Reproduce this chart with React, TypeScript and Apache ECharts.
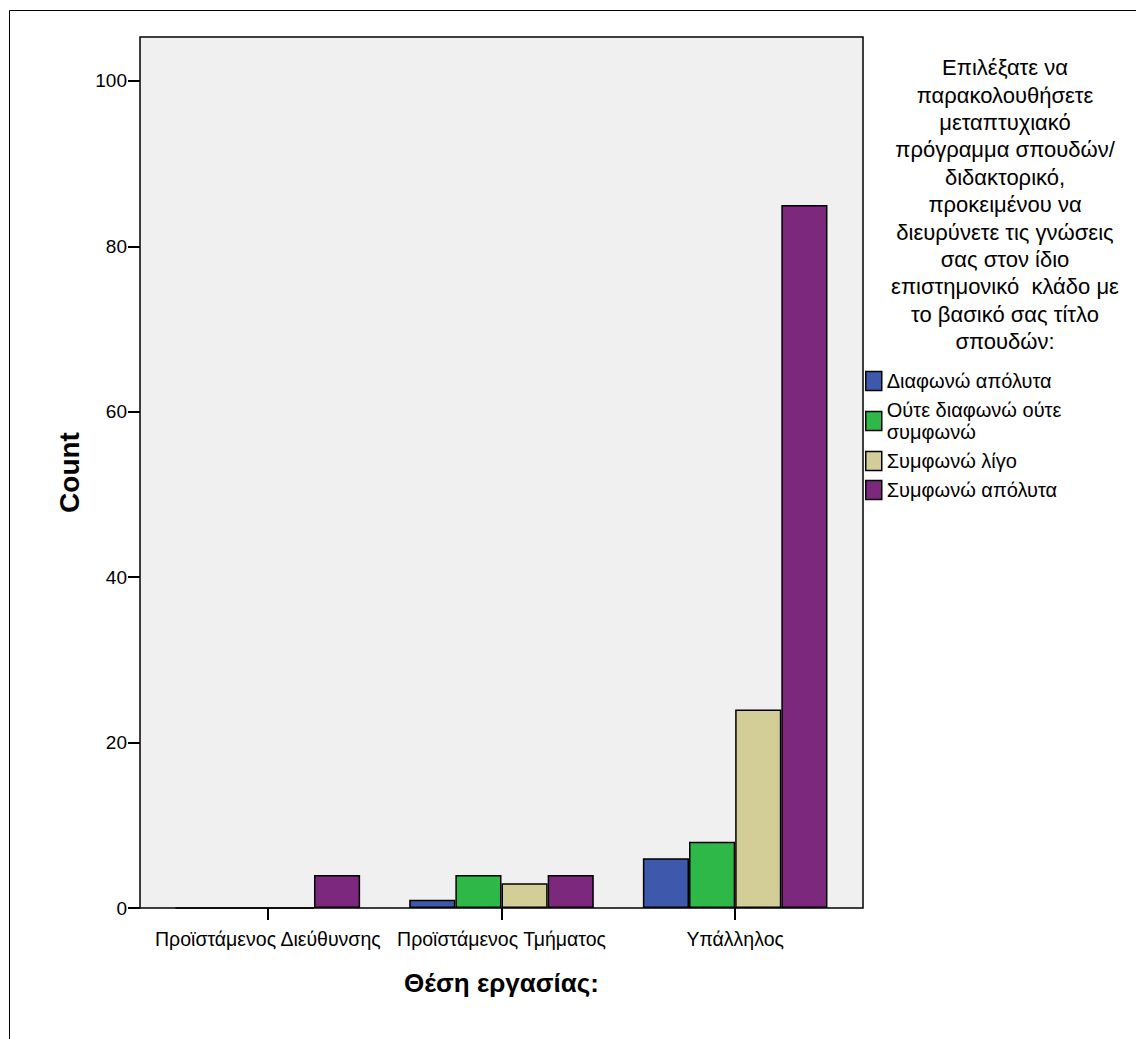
import React, { useEffect, useRef } from "react";
import * as echarts from "echarts";

const categories = ["Προϊστάμενος Διεύθυνσης", "Προϊστάμενος Τμήματος", "Υπάλληλος"];
const seriesNames = ["Διαφωνώ απόλυτα", "Ούτε διαφωνώ ούτε συμφωνώ", "Συμφωνώ λίγο", "Συμφωνώ απόλυτα"];
const legendLabels = ["Διαφωνώ απόλυτα", "Ούτε διαφωνώ ούτε\nσυμφωνώ", "Συμφωνώ λίγο", "Συμφωνώ απόλυτα"];
const diafonoApolyta = [0, 1, 6];
const oute = [0, 4, 8];
const symfonoLigo = [0, 3, 24];
const symfonoApolyta = [4, 4, 85];
const seriesValues = [diafonoApolyta, oute, symfonoLigo, symfonoApolyta];
const colors = ["#3E58AC", "#2EB848", "#D3CE97", "#7C287D"];
const legendTitleLines = [
  "Επιλέξατε να",
  "παρακολουθήσετε",
  "μεταπτυχιακό",
  "πρόγραμμα σπουδών/",
  "διδακτορικό,",
  "προκειμένου να",
  "διευρύνετε τις γνώσεις",
  "σας στον ίδιο",
  "επιστημονικό  κλάδο με",
  "το βασικό σας τίτλο",
  "σπουδών:",
];
const yAxisTitle = "Count";
const xAxisTitle = "Θέση εργασίας:";

const FONT = "'Liberation Sans', Arial, sans-serif";

export default function App() {
  const ref = useRef<HTMLDivElement>(null);
  useEffect(() => {
    document.body.style.margin = "0";
    const chart = echarts.init(ref.current!, null, { renderer: "svg" });
    const option: any = {
      animation: false,
      backgroundColor: "#ffffff",
      textStyle: { fontFamily: FONT },
      grid: { left: 151, right: 284, top: 37, bottom: 131, containLabel: false },
      graphic: [
        {
          type: "rect",
          z: -10,
          silent: true,
          shape: { x: 9.5, y: 10.5, width: 1300, height: 1300 },
          style: { fill: "none", stroke: "#000", lineWidth: 1 },
        },
        {
          type: "rect",
          z: -5,
          silent: true,
          shape: { x: 140, y: 37, width: 723, height: 871 },
          style: { fill: "#F0F0F0", stroke: "#000", lineWidth: 1.5 },
        },
        {
          type: "text",
          x: 1005,
          y: 54,
          style: {
            text: legendTitleLines.join("\n"),
            fontFamily: FONT,
            fontSize: 22,
            lineHeight: 27.4,
            fill: "#000",
            align: "center",
            verticalAlign: "top",
          },
        },
      ],
      legend: {
        orient: "vertical",
        left: 865,
        top: 370,
        padding: 0,
        itemWidth: 16,
        itemHeight: 19,
        itemGap: 7,
        icon: "rect",
        data: seriesNames,
        formatter: (name: string) => legendLabels[seriesNames.indexOf(name)],
        textStyle: { fontFamily: FONT, fontSize: 20, lineHeight: 22, color: "#000" },
        itemStyle: { borderColor: "#000", borderWidth: 1.5 },
      },
      xAxis: {
        type: "category",
        data: categories,
        name: xAxisTitle,
        nameLocation: "middle",
        nameGap: 62,
        nameTextStyle: { fontFamily: FONT, fontSize: 26, fontWeight: "bold", color: "#000" },
        axisLine: { show: false },
        axisTick: { show: true, alignWithLabel: true, length: 12, lineStyle: { color: "#000", width: 2 } },
        axisLabel: { fontFamily: FONT, fontSize: 19.5, color: "#000", margin: 21, interval: 0 },
      },
      yAxis: {
        type: "value",
        min: 0,
        max: 105.3,
        interval: 20,
        offset: 11,
        name: yAxisTitle,
        nameLocation: "middle",
        nameGap: 57,
        nameRotate: 90,
        nameTextStyle: { fontFamily: FONT, fontSize: 28, fontWeight: "bold", color: "#000" },
        axisLine: { show: false },
        axisTick: { show: true, length: 12, lineStyle: { color: "#000", width: 2 } },
        splitLine: { show: false },
        axisLabel: { fontFamily: FONT, fontSize: 19, color: "#000", margin: 13, showMaxLabel: false },
      },
      series: seriesNames.map((name, i) => ({
        name,
        type: "bar",
        data: seriesValues[i],
        barGap: "0%",
        barCategoryGap: "21%",
        itemStyle: { color: colors[i], borderColor: "#000", borderWidth: 1.5 },
      })),
    };
    chart.setOption(option);
    return () => chart.dispose();
  }, []);
  return <div ref={ref} style={{ width: 1136, height: 1039 }} />;
}
